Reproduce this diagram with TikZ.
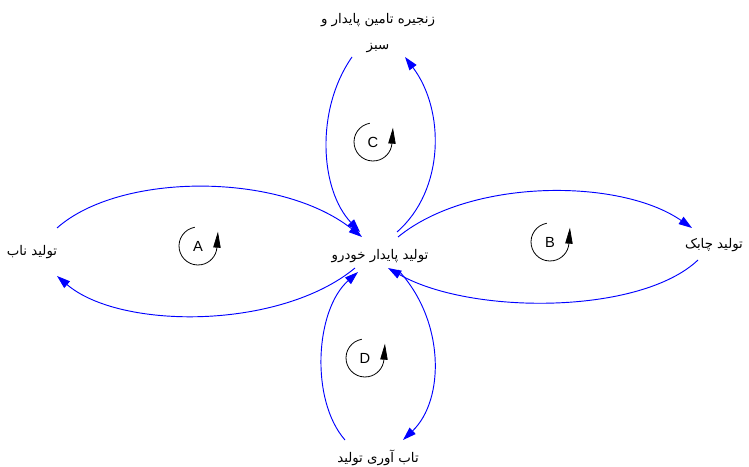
\documentclass[tikz,border=0pt]{standalone}
\usepackage{fontspec}
\setmainfont{Liberation Sans}
\newfontfamily\arabicfont[Script=Arabic]{DejaVu Sans}
\TeXXeTstate=1
\usetikzlibrary{arrows.meta}
\begin{document}
\begin{tikzpicture}[x=0.75pt,y=0.75pt,
  lbl/.style={font=\arabicfont\fontsize{10}{20}\selectfont,inner sep=0pt,align=center},
  flow/.style={draw=blue,line width=0.7pt,-{Triangle[length=10pt,width=6.5pt]}},
  looplbl/.style={font=\fontsize{11}{13}\selectfont,inner sep=0pt},
  loopln/.style={draw=black,line width=0.6pt,-{Triangle[length=12pt,width=5.5pt]}}]
\useasboundingbox[fill=white] (0,0) rectangle (749,467);
% nodes
\node[lbl] (mid) at (380,211) {\beginR تولید پایدار خودرو\endR};
\node[lbl] (top) at (378,434) {\beginR زنجیره تامین پایدار و\endR\\\beginR سبز\endR};
\node[lbl] (nab) at (32,215) {\beginR تولید ناب\endR};
\node[lbl] (chabok) at (714,222) {\beginR تولید چابک\endR};
\node[lbl] (tab) at (378,9) {\beginR تاب آوری تولید\endR};
% loop A
\draw[flow] ([shift={(25,24)}]nab.center) .. controls (120,295) and (280,295) .. ([shift={(-18,19)}]mid.center);
\draw[flow] ([shift={(-25,-12)}]mid.center) .. controls (280,137) and (120,137) .. ([shift={(25,-24)}]nab.center);
% loop B
\draw[flow] ([shift={(18,19)}]mid.center) .. controls (470,289) and (620,289) .. ([shift={(-22,17)}]chabok.center);
\draw[flow] ([shift={(-16,-15)}]chabok.center) .. controls (640,152) and (470,152) .. ([shift={(8,-12)}]mid.center);
% loop C
\draw[flow] ([shift={(-26,-24)}]top.center) .. controls (315,357) and (320,277) .. ([shift={(-20,24)}]mid.center);
\draw[flow] ([shift={(17,24)}]mid.center) .. controls (445,277) and (445,357) .. ([shift={(27,-24)}]top.center);
% loop D
\draw[flow] ([shift={(-33,18)}]tab.center) .. controls (310,67) and (315,157) .. ([shift={(-22,-16)}]mid.center);
\draw[flow] ([shift={(18,-14)}]mid.center) .. controls (445,147) and (445,67) .. ([shift={(25,18)}]tab.center);
% loop markers
\foreach \lx/\ly/\lt in {198/221/A, 550/225/B, 373/325/C, 365/109/D}{
  \node[looplbl] (L\lt) at (\lx,\ly) {\lt};
  \draw[loopln] ([shift={(100:19)}]L\lt.center) arc[start angle=100,end angle=355,radius=19] -- ++(1,16);
}
\end{tikzpicture}
\end{document}
